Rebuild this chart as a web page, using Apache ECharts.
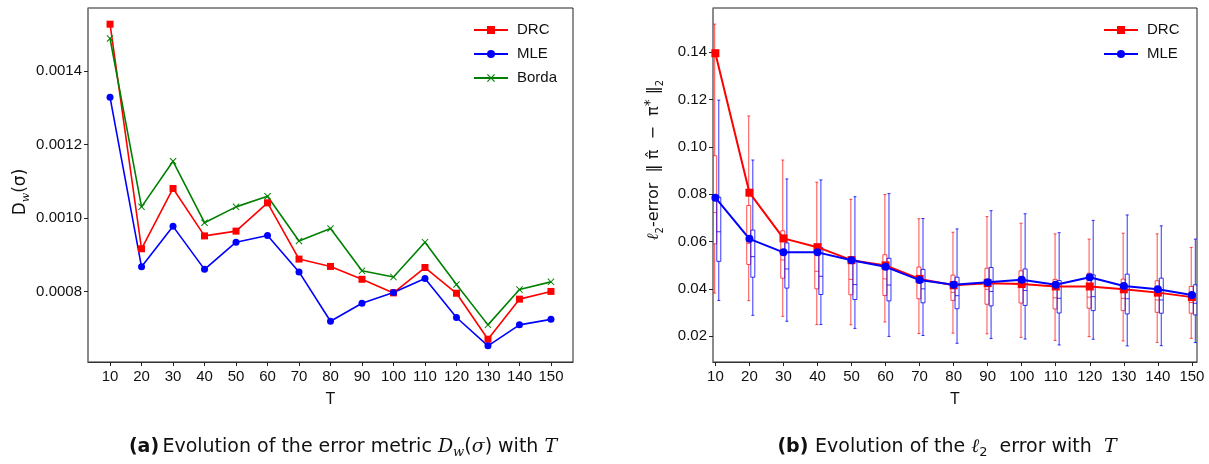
<!DOCTYPE html>
<html>
<head>
<meta charset="utf-8">
<script src="https://cdn.jsdelivr.net/npm/echarts@6/dist/echarts.min.js"></script>
<style>
html,body{margin:0;padding:0;background:#fff;}
#chart{width:1209px;height:464px;}
</style>
</head>
<body>
<div id="chart"></div>
<script>
// ---------- data ----------
const T = [10, 20, 30, 40, 50, 60, 70, 80, 90, 100, 110, 120, 130, 140, 150];
const tTicks = [10, 20, 30, 40, 50, 60, 70, 80, 90, 100, 110, 120, 130, 140, 150];

// (a) D_w(sigma)
const drcD   = [0.001527, 0.000916, 0.00108, 0.000951, 0.000964, 0.001041, 0.000888, 0.000868, 0.000833, 0.000796, 0.000865, 0.000795, 0.00067, 0.000779, 0.0008];
const mleD   = [0.001328, 0.000867, 0.000977, 0.00086, 0.000934, 0.000952, 0.000853, 0.000719, 0.000768, 0.000797, 0.000835, 0.000729, 0.000652, 0.000709, 0.000724];
const bordaD = [0.001488, 0.00103, 0.001154, 0.000987, 0.00103, 0.001059, 0.000937, 0.000971, 0.000856, 0.000839, 0.000934, 0.000819, 0.000709, 0.000805, 0.000826];
const dTicks = [0.0008, 0.0010, 0.0012, 0.0014];

// (b) l2 error: means
const drcMean = [0.1395, 0.0806, 0.0613, 0.0576, 0.0521, 0.0499, 0.0442, 0.0415, 0.0424, 0.0420, 0.0410, 0.0410, 0.0398, 0.0384, 0.0365];
const mleMean = [0.0785, 0.0611, 0.0554, 0.0554, 0.0521, 0.0493, 0.0437, 0.0417, 0.0428, 0.0438, 0.0417, 0.0449, 0.0412, 0.0398, 0.0374];
// box stats: [low whisker, Q1, median, Q3, high whisker]
const drcBox = [
  [0.0382, 0.0590, 0.0722, 0.0962, 0.1518],
  [0.0350, 0.0503, 0.0592, 0.0752, 0.1130],
  [0.0284, 0.0445, 0.0522, 0.0645, 0.0944],
  [0.0249, 0.0400, 0.0474, 0.0579, 0.0850],
  [0.0248, 0.0375, 0.0440, 0.0535, 0.0778],
  [0.0260, 0.0372, 0.0442, 0.0544, 0.0798],
  [0.0211, 0.0358, 0.0425, 0.0492, 0.0696],
  [0.0213, 0.0351, 0.0385, 0.0458, 0.0639],
  [0.0210, 0.0335, 0.0398, 0.0487, 0.0705],
  [0.0195, 0.0340, 0.0410, 0.0476, 0.0677],
  [0.0182, 0.0315, 0.0362, 0.0440, 0.0632],
  [0.0198, 0.0318, 0.0365, 0.0466, 0.0610],
  [0.0180, 0.0308, 0.0360, 0.0441, 0.0635],
  [0.0174, 0.0301, 0.0353, 0.0434, 0.0632],
  [0.0191, 0.0297, 0.0342, 0.0410, 0.0575]
];
const mleBox = [
  [0.0351, 0.0516, 0.0641, 0.0787, 0.1197],
  [0.0288, 0.0449, 0.0536, 0.0648, 0.0944],
  [0.0263, 0.0403, 0.0484, 0.0594, 0.0864],
  [0.0249, 0.0376, 0.0453, 0.0574, 0.0860],
  [0.0233, 0.0355, 0.0418, 0.0521, 0.0789],
  [0.0199, 0.0349, 0.0416, 0.0529, 0.0802],
  [0.0203, 0.0341, 0.0400, 0.0482, 0.0697],
  [0.0170, 0.0316, 0.0371, 0.0449, 0.0653],
  [0.0190, 0.0328, 0.0389, 0.0490, 0.0730],
  [0.0188, 0.0330, 0.0393, 0.0484, 0.0717],
  [0.0163, 0.0298, 0.0360, 0.0435, 0.0637],
  [0.0187, 0.0308, 0.0367, 0.0459, 0.0689],
  [0.0159, 0.0294, 0.0358, 0.0462, 0.0712],
  [0.0160, 0.0297, 0.0353, 0.0445, 0.0666],
  [0.0173, 0.0290, 0.0339, 0.0417, 0.0610]
];
const eTicks = [0.02, 0.04, 0.06, 0.08, 0.10, 0.12, 0.14];

// ---------- chart ----------
const FONT = 'Liberation Sans';
const CAP = 'DejaVu Sans';
const chart = echarts.init(document.getElementById('chart'), null, {renderer: 'canvas'});

function pairs(xs, ys) { return xs.map((x, i) => [x, ys[i]]); }
function boxRows(xs, b) { return xs.map((x, i) => [x].concat(b[i])); }

function boxRenderer(color, offset) {
  return function (params, api) {
    const t = api.value(0) + offset;
    const lo = api.coord([t, api.value(1)]);
    const q1 = api.coord([t, api.value(2)]);
    const md = api.coord([t, api.value(3)]);
    const q3 = api.coord([t, api.value(4)]);
    const hi = api.coord([t, api.value(5)]);
    const x = lo[0], hw = 2, cw = 1.5;
    const st = {stroke: color, lineWidth: 1, fill: null};
    return {
      type: 'group',
      children: [
        {type: 'line', shape: {x1: x, y1: lo[1], x2: x, y2: q1[1]}, style: st},
        {type: 'line', shape: {x1: x, y1: q3[1], x2: x, y2: hi[1]}, style: st},
        {type: 'line', shape: {x1: x - cw, y1: lo[1], x2: x + cw, y2: lo[1]}, style: st},
        {type: 'line', shape: {x1: x - cw, y1: hi[1], x2: x + cw, y2: hi[1]}, style: st},
        {type: 'rect', shape: {x: x - hw, y: q3[1], width: 2 * hw, height: q1[1] - q3[1]}, style: st},
        {type: 'line', shape: {x1: x - hw, y1: md[1], x2: x + hw, y2: md[1]}, style: st}
      ]
    };
  };
}

const axisLbl = {color: '#111', fontFamily: FONT, fontSize: 15};
const tickStyle = {show: true, inside: false, length: 4, lineStyle: {color: '#222', width: 1}};
const crossSym = 'path://M0,1 L1,0 L5,4 L9,0 L10,1 L6,5 L10,9 L9,10 L5,6 L1,10 L0,9 L4,5 Z';

const option = {
  backgroundColor: '#fff',
  animation: false,
  grid: [
    {left: 88, top: 8, width: 485, height: 354, show: true, borderColor: '#222', borderWidth: 1},
    {left: 713, top: 8, width: 484, height: 354, show: true, borderColor: '#222', borderWidth: 1}
  ],
  xAxis: [
    {
      gridIndex: 0, type: 'value', min: 3, max: 157,
      name: 'T', nameLocation: 'middle', nameGap: 30,
      nameTextStyle: {color: '#111', fontFamily: FONT, fontSize: 16},
      splitLine: {show: false},
      axisLine: {show: true, lineStyle: {color: '#333', width: 1}},
      axisTick: Object.assign({customValues: tTicks}, tickStyle),
      axisLabel: Object.assign({customValues: tTicks, margin: 7}, axisLbl)
    },
    {
      gridIndex: 1, type: 'value', min: 9.3, max: 151.5,
      name: 'T', nameLocation: 'middle', nameGap: 30,
      nameTextStyle: {color: '#111', fontFamily: FONT, fontSize: 16},
      splitLine: {show: false},
      axisLine: {show: true, lineStyle: {color: '#333', width: 1}},
      axisTick: Object.assign({customValues: tTicks}, tickStyle),
      axisLabel: Object.assign({customValues: tTicks, margin: 7}, axisLbl)
    }
  ],
  yAxis: [
    {
      gridIndex: 0, type: 'value', min: 0.000608, max: 0.001571,
      name: '{n|D}{s|w}{n|(σ)}', nameLocation: 'middle', nameGap: 56, nameRotate: 90,
      nameTextStyle: {
        color: '#111', fontFamily: FONT, fontSize: 17, padding: [0, 14, 0, 0],
        rich: {
          n: {fontFamily: CAP, fontSize: 17, color: '#111', lineHeight: 22},
          s: {fontFamily: 'DejaVu Serif', fontStyle: 'italic', fontSize: 11, color: '#111', verticalAlign: 'bottom', lineHeight: 13}
        }
      },
      splitLine: {show: false},
      axisLine: {show: true, lineStyle: {color: '#888', width: 1.5}},
      axisTick: Object.assign({customValues: dTicks}, tickStyle),
      axisLabel: Object.assign({customValues: dTicks, margin: 6, formatter: v => v.toFixed(4)}, axisLbl)
    },
    {
      gridIndex: 1, type: 'value', min: 0.0091, max: 0.1586,
      name: '{i|ℓ}{s|2}{n|-error  ‖ }{n|π̂  −  π}{p|*}{n| ‖}{s|2}', nameLocation: 'middle', nameGap: 48, nameRotate: 90,
      nameTextStyle: {
        color: '#111', fontFamily: CAP, fontSize: 16, padding: [0, 0, 0, 50],
        rich: {
          n: {fontFamily: CAP, fontSize: 16, color: '#111', lineHeight: 22},
          i: {fontFamily: 'DejaVu Serif', fontStyle: 'italic', fontSize: 16, color: '#111', lineHeight: 22},
          s: {fontFamily: CAP, fontSize: 10, color: '#111', verticalAlign: 'bottom', lineHeight: 13},
          p: {fontFamily: CAP, fontSize: 14, color: '#111', verticalAlign: 'top', lineHeight: 13}
        }
      },
      splitLine: {show: false},
      axisLine: {show: true, lineStyle: {color: '#888', width: 1.5}},
      axisTick: Object.assign({customValues: eTicks}, tickStyle),
      axisLabel: Object.assign({customValues: eTicks, margin: 6, formatter: v => v.toFixed(2)}, axisLbl)
    }
  ],
  legend: [
    {
      orient: 'vertical', left: 468, top: 17, itemWidth: 34, itemHeight: 10, itemGap: 8,
      data: ['DRC', 'MLE', 'Borda'],
      textStyle: {fontFamily: FONT, fontSize: 15, color: '#111', lineHeight: 16, padding: [0, 0, 0, 4]},
      selectedMode: false
    },
    {
      orient: 'vertical', left: 1098, top: 17, itemWidth: 34, itemHeight: 10, itemGap: 8,
      data: ['DRC', 'MLE'],
      textStyle: {fontFamily: FONT, fontSize: 15, color: '#111', lineHeight: 16, padding: [0, 0, 0, 4]},
      selectedMode: false
    }
  ],
  graphic: [
    {
      type: 'text', x: 343, y: 447,
      style: {
        text: '{b|(a)} {r|Evolution of the error metric }{i|D}{si|w}{r|(}{i|σ}{r|) with }{i|T}',
        align: 'center', verticalAlign: 'middle', textAlign: 'center', textVerticalAlign: 'middle',
        rich: {
          b: {fontFamily: CAP, fontWeight: 'bold', fontSize: 19, fill: '#111', lineHeight: 24},
          r: {fontFamily: CAP, fontSize: 19, fill: '#111', lineHeight: 24},
          i: {fontFamily: 'DejaVu Serif', fontStyle: 'italic', fontSize: 19, fill: '#111', lineHeight: 24},
          si: {fontFamily: 'DejaVu Serif', fontStyle: 'italic', fontSize: 13, fill: '#111', verticalAlign: 'bottom', lineHeight: 16}
        }
      }
    },
    {
      type: 'text', x: 947, y: 447,
      style: {
        text: '{b|(b)}  {r|Evolution of the }{i|ℓ}{s|2}{r|  error with  }{i|T}',
        align: 'center', verticalAlign: 'middle', textAlign: 'center', textVerticalAlign: 'middle',
        rich: {
          b: {fontFamily: CAP, fontWeight: 'bold', fontSize: 19, fill: '#111', lineHeight: 24},
          r: {fontFamily: CAP, fontSize: 19, fill: '#111', lineHeight: 24},
          i: {fontFamily: 'DejaVu Serif', fontStyle: 'italic', fontSize: 19, fill: '#111', lineHeight: 24},
          s: {fontFamily: CAP, fontSize: 13, fill: '#111', verticalAlign: 'bottom', lineHeight: 16}
        }
      }
    }
  ],
  series: [
    // (a)
    {
      name: 'DRC', type: 'line', xAxisIndex: 0, yAxisIndex: 0, data: pairs(T, drcD),
      symbol: 'rect', symbolSize: 7, color: '#ff0000',
      lineStyle: {color: '#ff0000', width: 1.6}, itemStyle: {color: '#ff0000'}
    },
    {
      name: 'MLE', type: 'line', xAxisIndex: 0, yAxisIndex: 0, data: pairs(T, mleD),
      symbol: 'circle', symbolSize: 7, color: '#0000ff',
      lineStyle: {color: '#0000ff', width: 1.6}, itemStyle: {color: '#0000ff'}
    },
    {
      name: 'Borda', type: 'line', xAxisIndex: 0, yAxisIndex: 0, data: pairs(T, bordaD),
      symbol: crossSym, symbolSize: 7, color: '#008000',
      lineStyle: {color: '#008000', width: 1.6}, itemStyle: {color: '#008000'}
    },
    // (b) boxes
    {
      type: 'custom', xAxisIndex: 1, yAxisIndex: 1, clip: true,
      data: boxRows(T, drcBox), encode: {x: 0, y: [1, 2, 3, 4, 5]},
      renderItem: boxRenderer('rgba(255,0,0,0.7)', -0.2), silent: true
    },
    {
      type: 'custom', xAxisIndex: 1, yAxisIndex: 1, clip: true,
      data: boxRows(T, mleBox), encode: {x: 0, y: [1, 2, 3, 4, 5]},
      renderItem: boxRenderer('rgba(0,0,255,0.8)', 1.0), silent: true
    },
    // (b) means
    {
      name: 'DRC', type: 'line', xAxisIndex: 1, yAxisIndex: 1, data: pairs(T, drcMean),
      symbol: 'rect', symbolSize: 8, color: '#ff0000',
      lineStyle: {color: '#ff0000', width: 2}, itemStyle: {color: '#ff0000'}
    },
    {
      name: 'MLE', type: 'line', xAxisIndex: 1, yAxisIndex: 1, data: pairs(T, mleMean),
      symbol: 'circle', symbolSize: 8, color: '#0000ff',
      lineStyle: {color: '#0000ff', width: 2}, itemStyle: {color: '#0000ff'}
    }
  ]
};
chart.setOption(option);
</script>
</body>
</html>
